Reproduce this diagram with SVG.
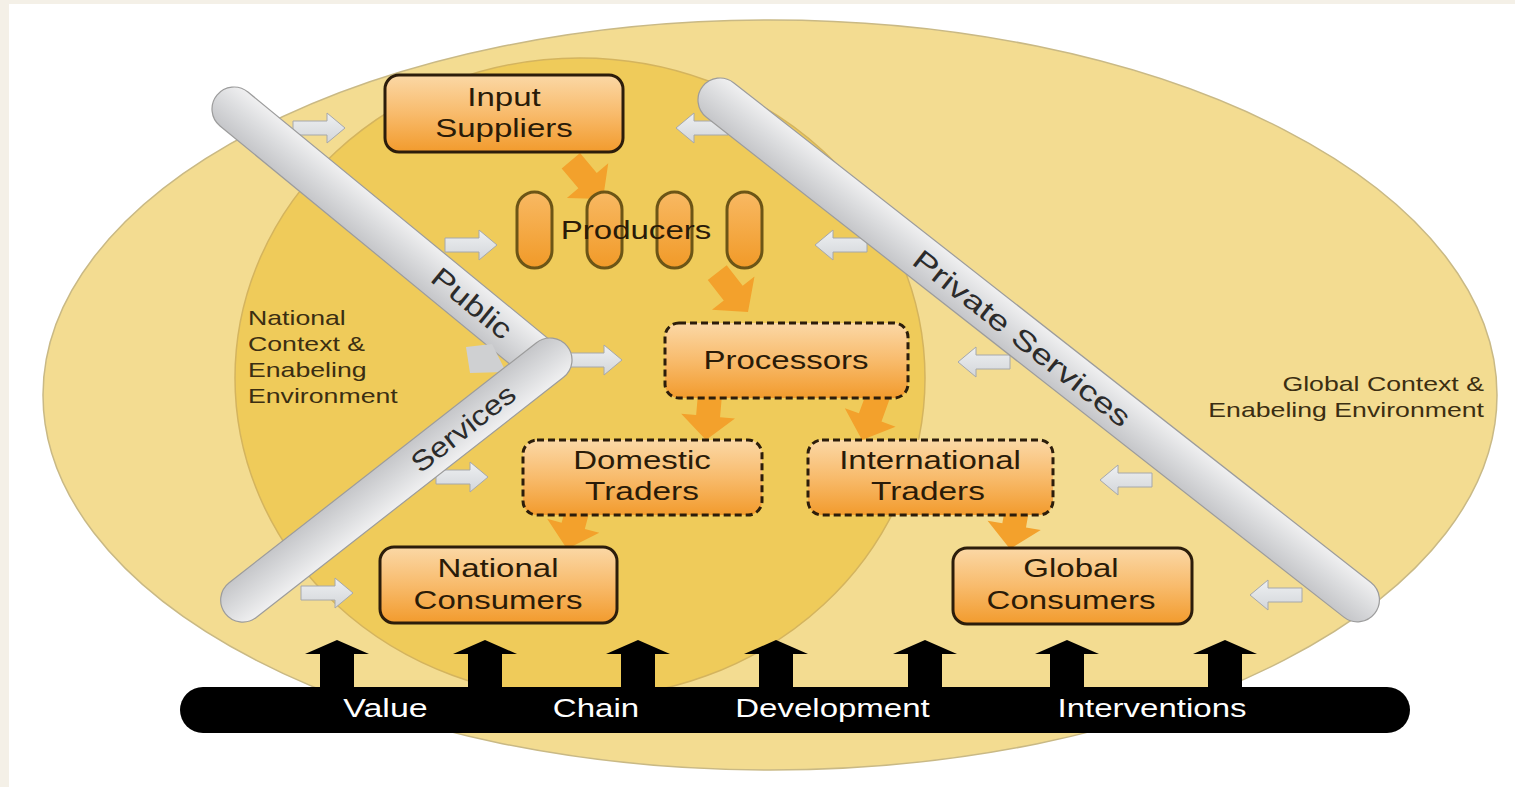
<svg xmlns="http://www.w3.org/2000/svg" width="1515" height="787" viewBox="0 0 1515 787">
<defs>
<style>
.box{stroke:#2c1d0b;stroke-width:3;fill:url(#og)}
.dash{stroke:#2c1d0b;stroke-width:3;fill:url(#og);stroke-dasharray:7 4}
.pill{stroke:#6c5516;stroke-width:3;fill:url(#pg)}
.bt{font-family:"Liberation Sans",Arial,sans-serif;font-size:26px;fill:#2a1b08;text-anchor:middle}
.ct{font-family:"Liberation Sans",Arial,sans-serif;font-size:21px;fill:#3b2e12}
.rt{font-family:"Liberation Sans",Arial,sans-serif;font-size:28px;fill:#2b2b2b;text-anchor:middle}
.wt{font-family:"Liberation Sans",Arial,sans-serif;font-size:26px;fill:#ffffff;text-anchor:middle}
.bar{fill:url(#gg);stroke:#9c9c9c;stroke-width:1.2}
.ga{fill:url(#ga);stroke:#a6a8ab;stroke-width:1}
.fa{fill:#f3a12c}
</style>
<linearGradient id="og" x1="0" y1="0" x2="0" y2="1">
<stop offset="0" stop-color="#fbd8a6"/><stop offset="0.5" stop-color="#f8bb6c"/><stop offset="1" stop-color="#f29b2d"/>
</linearGradient>
<linearGradient id="pg" x1="0" y1="0" x2="0" y2="1">
<stop offset="0" stop-color="#f8b963"/><stop offset="1" stop-color="#f19a28"/>
</linearGradient>
<linearGradient id="gg" x1="0" y1="0" x2="0" y2="1">
<stop offset="0" stop-color="#f0f0f1"/><stop offset="0.45" stop-color="#dcdddf"/><stop offset="1" stop-color="#c5c6c9"/>
</linearGradient>
<linearGradient id="ga" x1="0" y1="0" x2="0" y2="1">
<stop offset="0" stop-color="#eef0f2"/><stop offset="1" stop-color="#d3d6da"/>
</linearGradient>
<path id="garrow" d="M0,0 L-18,-15 L-18,-7 L-52,-7 L-52,7 L-18,7 L-18,15 Z"/>
<path id="farrow" d="M0,0 L-24,-27 L-24,-12 L-50,-12 L-50,12 L-24,12 L-24,27 Z"/>
<path id="barrow" d="M0,640 L32,654 L17,654 L17,690 L-17,690 L-17,654 L-32,654 Z"/>
</defs>

<rect x="0" y="0" width="1515" height="787" fill="#f4f0e7"/>
<rect x="9" y="4" width="1506" height="783" fill="#ffffff"/>

<g id="global-context">
<ellipse cx="770" cy="395" rx="727" ry="375" fill="#f3dc91" stroke="#c9b985" stroke-width="1.5"/>
<text class="ct" x="1484" y="391" text-anchor="end" textLength="201.6" lengthAdjust="spacingAndGlyphs">Global Context &amp;</text>
<text class="ct" x="1484" y="417" text-anchor="end" textLength="275.7" lengthAdjust="spacingAndGlyphs">Enabeling Environment</text>
</g>

<g id="national-context">
<ellipse cx="580" cy="378" rx="345" ry="320" fill="#efcb5a" stroke="#d4b45e" stroke-width="1.5"/>
<text class="ct" x="248" y="325" textLength="97.8" lengthAdjust="spacingAndGlyphs">National</text>
<text class="ct" x="248" y="351" textLength="117.1" lengthAdjust="spacingAndGlyphs">Context &amp;</text>
<text class="ct" x="248" y="377" textLength="118.6" lengthAdjust="spacingAndGlyphs">Enabeling</text>
<text class="ct" x="248" y="403" textLength="149.7" lengthAdjust="spacingAndGlyphs">Environment</text>
</g>

<g id="service-arrows">
<use href="#garrow" class="ga" transform="translate(345,128)"/>
<use href="#garrow" class="ga" transform="translate(497,245)"/>
<use href="#garrow" class="ga" transform="translate(622,360)"/>
<use href="#garrow" class="ga" transform="translate(488,477)"/>
<use href="#garrow" class="ga" transform="translate(353,593)"/>
<use href="#garrow" class="ga" transform="translate(676,128) scale(-1,1)"/>
<use href="#garrow" class="ga" transform="translate(815,245) scale(-1,1)"/>
<use href="#garrow" class="ga" transform="translate(958,362) scale(-1,1)"/>
<use href="#garrow" class="ga" transform="translate(1100,480) scale(-1,1)"/>
<use href="#garrow" class="ga" transform="translate(1250,595) scale(-1,1)"/>
</g>

<g id="public-services">
<g transform="translate(234,109) rotate(39.4)">
<rect class="bar" x="-22" y="-22" width="440" height="44" rx="22"/>
</g>
<polygon points="466,347 492,344 506,372 470,373" fill="#cfd0d2"/>
<g transform="translate(550,360) rotate(142)">
<rect class="bar" x="-22" y="-22" width="434" height="44" rx="22"/>
</g>
<g transform="translate(472,303) rotate(39.4)"><text class="rt" x="0" y="10" textLength="95" lengthAdjust="spacingAndGlyphs">Public</text></g>
<g transform="translate(463,428) rotate(-38)"><text class="rt" x="0" y="10" textLength="124" lengthAdjust="spacingAndGlyphs">Services</text></g>
</g>

<g id="private-services">
<g transform="translate(720,100) rotate(38.1)">
<rect class="bar" x="-22" y="-22" width="854" height="44" rx="22"/>
</g>
<g transform="translate(1022,338) rotate(38.1)"><text class="rt" x="0" y="10" textLength="268" lengthAdjust="spacingAndGlyphs">Private Services</text></g>
</g>

<g id="connectors">
<use href="#farrow" class="fa" transform="translate(603,199) rotate(50)"/>
<use href="#farrow" class="fa" transform="translate(748,312) rotate(52)"/>
<use href="#farrow" class="fa" transform="translate(706,440) rotate(95)"/>
<use href="#farrow" class="fa" transform="translate(862,440) rotate(110)"/>
<use href="#farrow" class="fa" transform="translate(567,549) rotate(105)"/>
<use href="#farrow" class="fa" transform="translate(1010,549) rotate(100)"/>
</g>

<g id="producers">
<rect class="pill" x="517" y="192" width="35" height="76" rx="17.5"/>
<rect class="pill" x="587" y="192" width="35" height="76" rx="17.5"/>
<rect class="pill" x="657" y="192" width="35" height="76" rx="17.5"/>
<rect class="pill" x="727" y="192" width="35" height="76" rx="17.5"/>
<text class="bt" x="636" y="239" textLength="150.5" lengthAdjust="spacingAndGlyphs">Producers</text>
</g>

<g id="input-suppliers">
<rect class="box" x="385" y="75" width="238" height="77" rx="14"/>
<text class="bt" x="504" y="106" textLength="73.4" lengthAdjust="spacingAndGlyphs">Input</text>
<text class="bt" x="504" y="137" textLength="137.6" lengthAdjust="spacingAndGlyphs">Suppliers</text>
</g>

<g id="processors">
<rect class="dash" x="665" y="323" width="243" height="75" rx="14"/>
<text class="bt" x="786" y="369" textLength="165.1" lengthAdjust="spacingAndGlyphs">Processors</text>
</g>

<g id="domestic-traders">
<rect class="dash" x="523" y="440" width="239" height="75" rx="14"/>
<text class="bt" x="642" y="469" textLength="137.6" lengthAdjust="spacingAndGlyphs">Domestic</text>
<text class="bt" x="642" y="500" textLength="113.8" lengthAdjust="spacingAndGlyphs">Traders</text>
</g>

<g id="international-traders">
<rect class="dash" x="808" y="440" width="245" height="75" rx="14"/>
<text class="bt" x="930" y="469" textLength="181.7" lengthAdjust="spacingAndGlyphs">International</text>
<text class="bt" x="928" y="500" textLength="113.8" lengthAdjust="spacingAndGlyphs">Traders</text>
</g>

<g id="national-consumers">
<rect class="box" x="380" y="547" width="237" height="76" rx="14"/>
<text class="bt" x="498" y="577" textLength="121.1" lengthAdjust="spacingAndGlyphs">National</text>
<text class="bt" x="498" y="609" textLength="168.8" lengthAdjust="spacingAndGlyphs">Consumers</text>
</g>

<g id="global-consumers">
<rect class="box" x="953" y="548" width="239" height="76" rx="14"/>
<text class="bt" x="1071" y="577" textLength="95.4" lengthAdjust="spacingAndGlyphs">Global</text>
<text class="bt" x="1071" y="609" textLength="168.8" lengthAdjust="spacingAndGlyphs">Consumers</text>
</g>

<g id="interventions">
<use href="#barrow" transform="translate(337,0)" fill="#000"/>
<use href="#barrow" transform="translate(485,0)" fill="#000"/>
<use href="#barrow" transform="translate(638,0)" fill="#000"/>
<use href="#barrow" transform="translate(776,0)" fill="#000"/>
<use href="#barrow" transform="translate(925,0)" fill="#000"/>
<use href="#barrow" transform="translate(1067,0)" fill="#000"/>
<use href="#barrow" transform="translate(1225,0)" fill="#000"/>
<rect x="180" y="687" width="1230" height="46" rx="23" fill="#000"/>
<text class="wt" x="385.5" y="717" textLength="84.4" lengthAdjust="spacingAndGlyphs">Value</text>
<text class="wt" x="596" y="717" textLength="86.3" lengthAdjust="spacingAndGlyphs">Chain</text>
<text class="wt" x="832.5" y="717" textLength="194.5" lengthAdjust="spacingAndGlyphs">Development</text>
<text class="wt" x="1152" y="717" textLength="189" lengthAdjust="spacingAndGlyphs">Interventions</text>
</g>
</svg>
